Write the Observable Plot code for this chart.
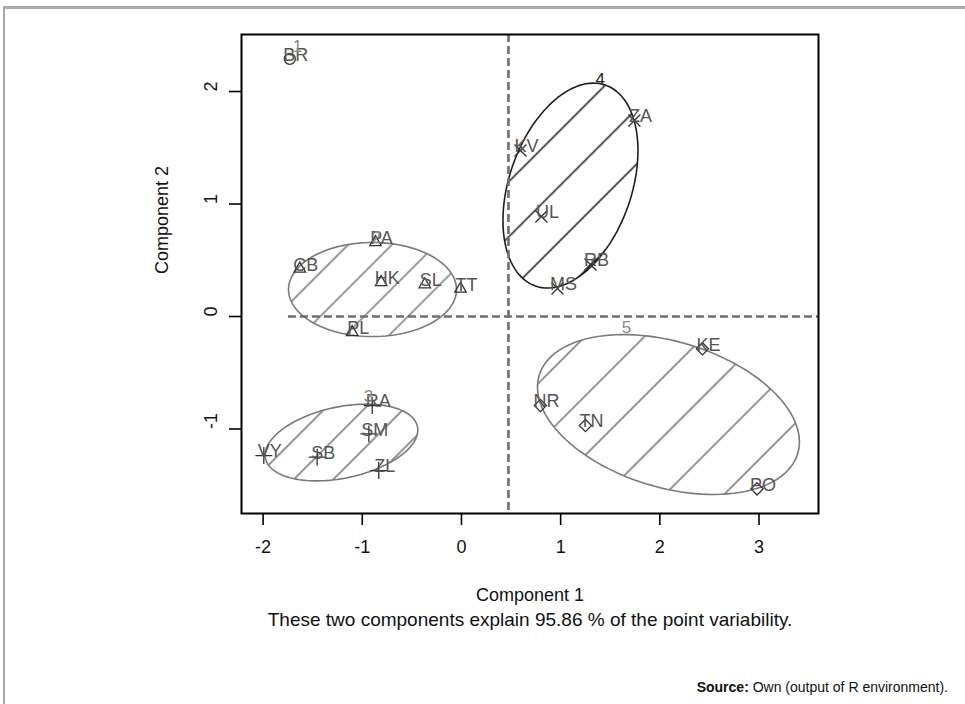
<!DOCTYPE html>
<html>
<head>
<meta charset="utf-8">
<script src="https://cdn.jsdelivr.net/npm/d3@7"></script>
<script src="https://cdn.jsdelivr.net/npm/@observablehq/plot@0.6"></script>
<style>
  html, body { margin: 0; padding: 0; background: #fff; }
  body { width: 965px; height: 704px; position: relative; overflow: hidden; font-family: "Liberation Sans", Arial, sans-serif; }
  #border { position: absolute; left: 3px; top: 6px; width: 970px; height: 710px; border-top: 3px solid #a8a8a8; border-left: 2px solid #a8a8a8; }
  #chart { position: absolute; left: 0; top: 0; }
  #source { position: absolute; right: 17px; top: 679px; font-size: 14px; color: #111; white-space: nowrap; }
</style>
</head>
<body>
<div id="border"></div>
<div id="chart"></div>
<div id="source"><b>Source:</b> Own (output of R environment).</div>
<script>
// ---- data ----
const names    = ["BR","PA","CB","HK","SL","TT","PL","RA","VY","SB","SM","ZL","KV","ZA","UL","RB","MS","KE","NR","TN","PO"];
const comp1    = [-1.731,-0.867,-1.630,-0.810,-0.370,-0.010,-1.102,-0.900,-1.993,-1.455,-0.934,-0.834,0.595,1.744,0.806,1.300,0.968,2.430,0.796,1.250,2.980];
const comp2    = [2.290,0.660,0.424,0.305,0.285,0.246,-0.140,-0.791,-1.236,-1.250,-1.043,-1.369,1.476,1.742,0.889,0.462,0.249,-0.287,-0.791,-0.969,-1.532];
const cluster  = [1,2,2,2,2,2,2,3,3,3,3,3,4,4,4,4,4,5,5,5,5];

const clusterIds     = [1,2,3,4,5];
const clusterSymbols = ["circle","triangle2","plus","times","diamond2"];
const clusterLabelX  = [-1.653,-0.857,-0.938,1.400,1.663];
const clusterLabelY  = [2.400,0.702,-0.711,2.106,-0.098];

// ellipses: center and two conjugate semi-axis vectors (data units)
const ellCluster = [2,3,4,5];
const ellCx = [-0.897,-1.210,1.099,2.087];
const ellCy = [0.240,-1.120,1.164,-0.871];
const ellAx = [0.847,0.766,0.353,1.303];
const ellAy = [0.000,0.142,0.893,-0.349];
const ellBx = [0.000,0.075,0.582,0.214];
const ellBy = [0.418,-0.310,-0.179,0.619];
const ellColor   = ["#7a7a7a","#7a7a7a","#1e1e1e","#7a7a7a"];
const ellSpacing = [31,28,39,42];

const xTicks = [-2,-1,0,1,2,3];
const yTicks = [-1,0,1,2];
const vLineX = 0.474;
const hLineX1 = -1.745;

// ---- derived tables ----
const points = names.map((n,i) => ({name: n, x: comp1[i], y: comp2[i], c: cluster[i]}));
const clusterLabels = clusterIds.map((c,i) => ({c, x: clusterLabelX[i], y: clusterLabelY[i]}));
const ellPts = ellCluster.flatMap((c,i) =>
  d3.range(0, 121).map(k => {
    const t = k / 120 * 2 * Math.PI;
    return {c, x: ellCx[i] + ellAx[i]*Math.cos(t) + ellBx[i]*Math.sin(t),
               y: ellCy[i] + ellAy[i]*Math.cos(t) + ellBy[i]*Math.sin(t)};
  }));

const font = "Liberation Sans, Arial, sans-serif";
const marks = [];

ellCluster.forEach((c,i) => {
  marks.push(Plot.line(ellPts.filter(d => d.c === c), {
    x: "x", y: "y", fill: `url(#hatch${c})`, stroke: ellColor[i], strokeWidth: 1.6
  }));
});

marks.push(Plot.ruleX([vLineX], {stroke: "#6e6e6e", strokeWidth: 2.6, strokeDasharray: "8,4"}));
marks.push(Plot.ruleY([0], {x1: hLineX1, x2: 3.6, stroke: "#6e6e6e", strokeWidth: 2.6, strokeDasharray: "8,4"}));

clusterIds.forEach((c,i) => {
  marks.push(Plot.dot(points.filter(d => d.c === c), {
    x: "x", y: "y", symbol: clusterSymbols[i], r: 5.5, stroke: "#333", strokeWidth: 1.3, fill: "none"
  }));
});

marks.push(Plot.text(points, {x: "x", y: "y", text: "name", dx: 6, dy: -4, fill: "#555", fontSize: 18, fontFamily: font}));
marks.push(Plot.text(clusterLabels, {x: "x", y: "y", text: d => String(d.c), fill: d => d.c === 4 ? "#222" : "#888", fontSize: 17, fontFamily: font}));

marks.push(Plot.frame({stroke: "#000", strokeWidth: 2}));
marks.push(Plot.axisX(xTicks, {tickSize: 12, tickFormat: () => "", label: null, stroke: "#000", strokeWidth: 1.6}));
marks.push(Plot.axisY(yTicks, {tickSize: 12, tickFormat: () => "", label: null, stroke: "#000", strokeWidth: 1.6}));
marks.push(Plot.text(xTicks, {x: d => d, frameAnchor: "bottom", dy: 39, text: d => d < 0 ? "-" + Math.abs(d) : String(d), fontSize: 18, fill: "#111", fontFamily: font}));
marks.push(Plot.text(yTicks, {y: d => d, frameAnchor: "left", dx: -30, rotate: -90, text: d => d < 0 ? "-" + Math.abs(d) : String(d), fontSize: 18, fill: "#111", fontFamily: font}));
marks.push(Plot.text(["Component 1"], {frameAnchor: "bottom", dy: 87, text: d => d, fontSize: 18, fill: "#111", fontFamily: font}));
marks.push(Plot.text(["These two components explain 95.86 % of the point variability."], {frameAnchor: "bottom", dy: 112, text: d => d, fontSize: 19, fill: "#111", fontFamily: font}));
marks.push(Plot.text(["Component 2"], {frameAnchor: "left", dx: -79, rotate: -90, text: d => d, fontSize: 18, fill: "#111", fontFamily: font}));

const chart = Plot.plot({
  width: 965,
  height: 650,
  marginLeft: 241,
  marginRight: 147,
  marginTop: 34,
  marginBottom: 137,
  x: {domain: [-2.218, 3.6], axis: null},
  y: {domain: [-1.751, 2.507], axis: null},
  style: {background: "transparent", fontFamily: font, overflow: "visible"},
  marks
});

const defs = d3.select(chart).insert("defs", ":first-child");
ellCluster.forEach((c,i) => {
  const s = ellSpacing[i];
  const p = defs.append("pattern")
    .attr("id", `hatch${c}`)
    .attr("patternUnits", "userSpaceOnUse")
    .attr("width", s).attr("height", s)
    .attr("patternTransform", "rotate(45)");
  p.append("line").attr("x1", s/2).attr("y1", 0).attr("x2", s/2).attr("y2", s)
    .attr("stroke", ellColor[i]).attr("stroke-width", 1.6);
});

document.getElementById("chart").appendChild(chart);
</script>
</body>
</html>
